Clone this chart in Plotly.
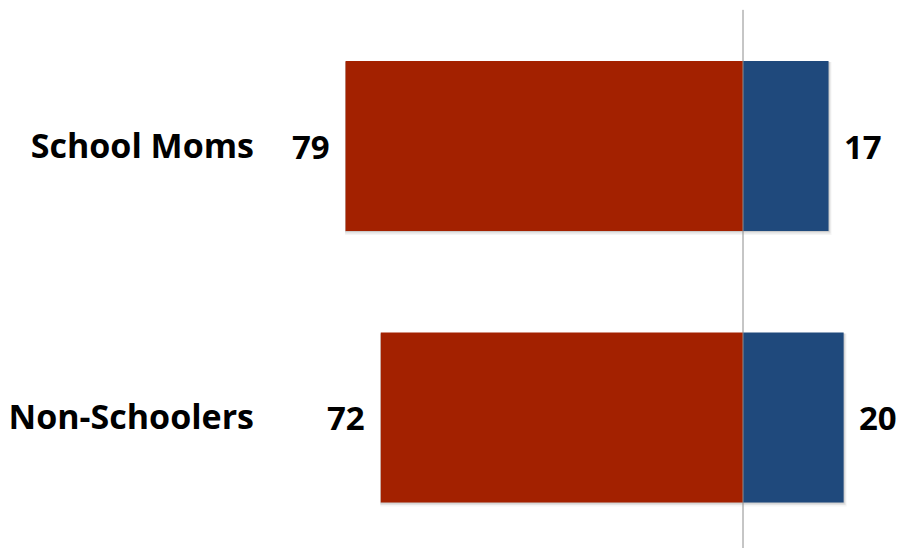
import plotly.graph_objects as go

# Survey shares by group: left side (red) vs right side (blue)
categories = ["Non-Schoolers", "School Moms"]
left_values = [72, 79]
right_values = [20, 17]

RED = "#A32100"
BLUE = "#1F497C"
FONT = "Open Sans"
BAR_W = 0.626

X_RANGE = [-96.0, 31.8]
PLOT_W = 903 - 260
PX_PER_UNIT = PLOT_W / (X_RANGE[1] - X_RANGE[0])
Y_RANGE = [-0.4807, 1.5378]
PX_PER_CAT = 548 / (Y_RANGE[1] - Y_RANGE[0])

fig = go.Figure()

# Soft drop shadow under each bar pair
for i, (lv, rv) in enumerate(zip(left_values, right_values)):
    for dx, dy, alpha in [(1.0, 1.0, 0.10), (2.0, 2.5, 0.07), (3.0, 4.0, 0.04)]:
        fig.add_shape(
            type="rect", xref="x", yref="y", layer="below",
            x0=-lv - 0.5 / PX_PER_UNIT, x1=rv + dx / PX_PER_UNIT,
            y0=i - BAR_W / 2 - dy / PX_PER_CAT, y1=i + BAR_W / 2 - 1 / PX_PER_CAT,
            line=dict(width=0), fillcolor=f"rgba(0,0,0,{alpha})",
        )

fig.add_trace(go.Bar(
    y=categories, x=[-v for v in left_values], orientation="h",
    marker=dict(color=RED, line=dict(width=0)), width=BAR_W,
    hoverinfo="skip", showlegend=False,
))
fig.add_trace(go.Bar(
    y=categories, x=right_values, orientation="h",
    marker=dict(color=BLUE, line=dict(width=0)), width=BAR_W,
    hoverinfo="skip", showlegend=False,
))

# Value labels sitting just outside each bar end
for cat, lv, rv in zip(categories, left_values, right_values):
    fig.add_annotation(x=-lv, y=cat, text=f"<b>{lv}</b>", showarrow=False,
                       xanchor="right", xshift=-14,
                       font=dict(family=FONT, size=33, color="black"))
    fig.add_annotation(x=rv, y=cat, text=f"<b>{rv}</b>", showarrow=False,
                       xanchor="left", xshift=13,
                       font=dict(family=FONT, size=33, color="black"))

# Zero divider
fig.add_shape(type="line", xref="x", yref="paper", x0=0, x1=0, y0=0, y1=0.982,
              line=dict(color="#8C8C8C", width=1), layer="above")

fig.update_layout(
    width=903, height=548,
    margin=dict(l=260, r=0, t=0, b=0),
    paper_bgcolor="white", plot_bgcolor="white",
    barmode="relative",
    xaxis=dict(range=X_RANGE, visible=False, fixedrange=True),
    yaxis=dict(range=Y_RANGE, showgrid=False, zeroline=False,
               showline=False, ticks="", ticklabelstandoff=5,
               tickfont=dict(family=FONT, size=34, color="black"),
               tickprefix="<b>", ticksuffix="</b>"),
)

fig.write_html("out.html")
